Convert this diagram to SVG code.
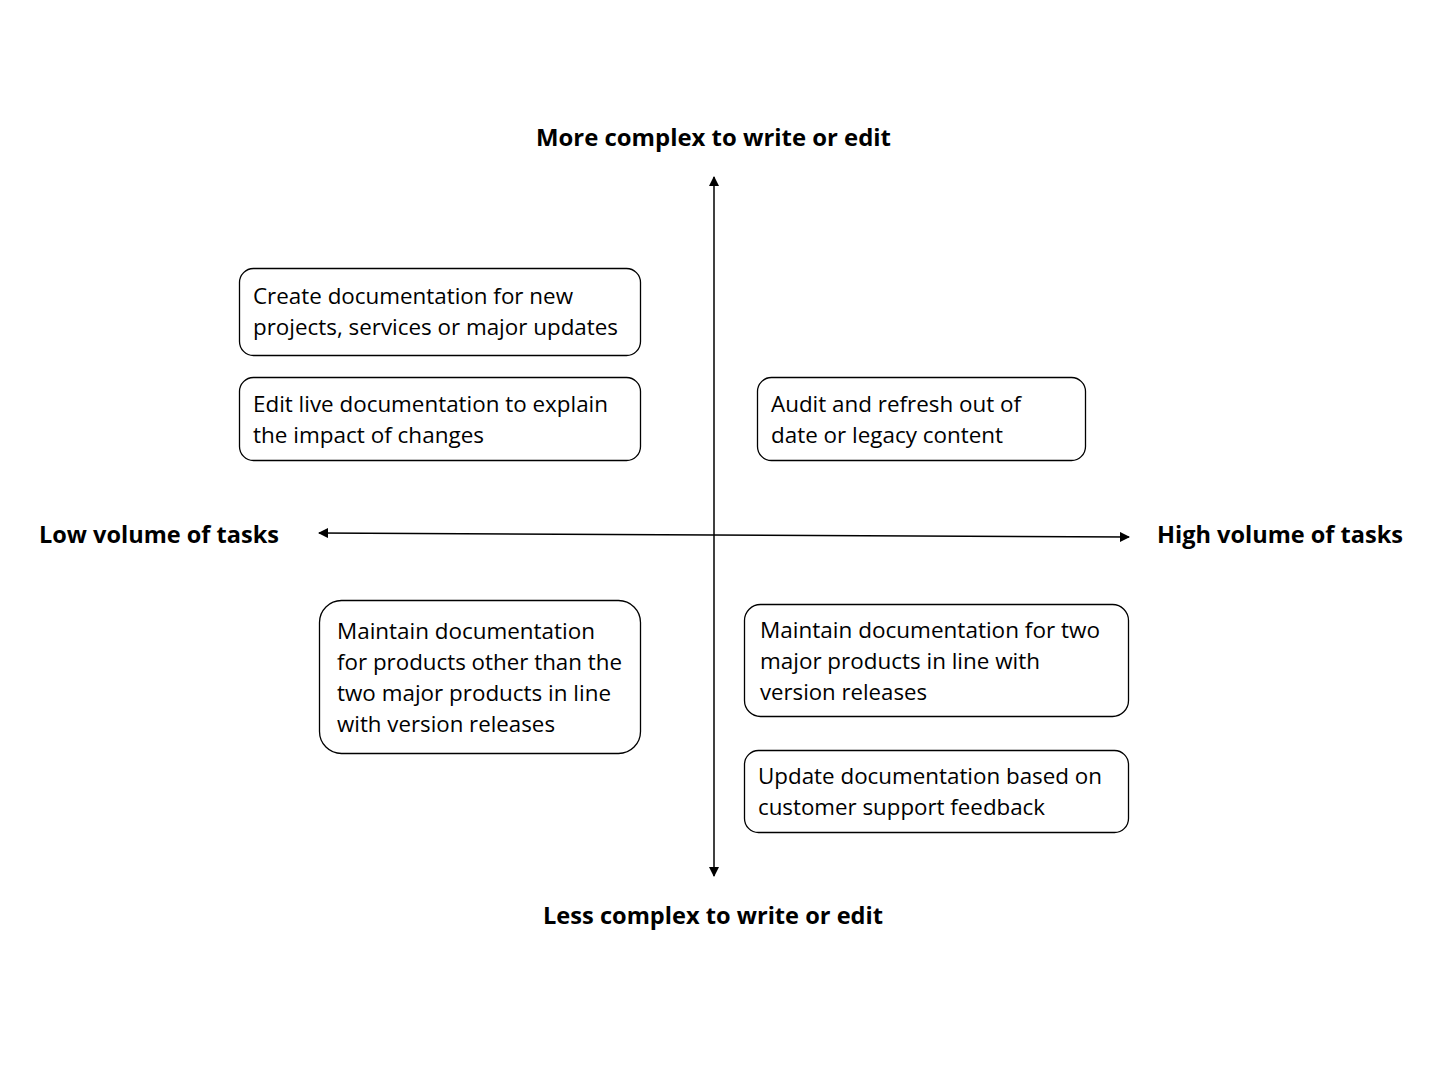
<svg xmlns="http://www.w3.org/2000/svg" width="1440" height="1080" viewBox="0 0 1440 1080">
<style>
.box{fill:#fff;stroke:#000;stroke-width:1.3}
.t{font-family:"Open Sans","Liberation Sans",sans-serif;font-size:21px;fill:#000}
.ax{font-family:"Open Sans","Liberation Sans",sans-serif;font-size:23px;font-weight:bold;fill:#000}
.ln{stroke:#000;stroke-width:1.5;fill:none}
</style>
<defs>
<marker id="ah" viewBox="0 0 10 10" refX="9" refY="5" markerWidth="10" markerHeight="10" markerUnits="userSpaceOnUse" orient="auto-start-reverse">
<path d="M0,0 L10,5 L0,10 z" fill="#000"/>
</marker>
</defs>
<rect width="1440" height="1080" fill="#fff"/>
<g id="connectors">
<line class="ln" x1="714" y1="177" x2="714" y2="876" marker-start="url(#ah)" marker-end="url(#ah)"/>
<line class="ln" x1="319" y1="533" x2="1129" y2="537" marker-start="url(#ah)" marker-end="url(#ah)"/>
</g>
<g id="axis-top"><text class="ax" x="536" y="146" textLength="355" lengthAdjust="spacingAndGlyphs">More complex to write or edit</text></g>
<g id="axis-bottom"><text class="ax" x="543" y="924" textLength="340" lengthAdjust="spacingAndGlyphs">Less complex to write or edit</text></g>
<g id="axis-left"><text class="ax" x="39" y="543" textLength="240" lengthAdjust="spacingAndGlyphs">Low volume of tasks</text></g>
<g id="axis-right"><text class="ax" x="1157" y="543" textLength="246" lengthAdjust="spacingAndGlyphs">High volume of tasks</text></g>
<g id="node-create">
<rect class="box" x="239.5" y="268.5" width="401" height="87" rx="14"/>
<text class="t" x="253" y="304" textLength="320" lengthAdjust="spacingAndGlyphs">Create documentation for new</text>
<text class="t" x="253" y="335" textLength="365" lengthAdjust="spacingAndGlyphs">projects, services or major updates</text>
</g>
<g id="node-edit">
<rect class="box" x="239.5" y="377.5" width="401" height="83" rx="14"/>
<text class="t" x="253" y="412" textLength="355" lengthAdjust="spacingAndGlyphs">Edit live documentation to explain</text>
<text class="t" x="253" y="443" textLength="231" lengthAdjust="spacingAndGlyphs">the impact of changes</text>
</g>
<g id="node-audit">
<rect class="box" x="757.5" y="377.5" width="328" height="83" rx="14"/>
<text class="t" x="771" y="412" textLength="250" lengthAdjust="spacingAndGlyphs">Audit and refresh out of</text>
<text class="t" x="771" y="443" textLength="232" lengthAdjust="spacingAndGlyphs">date or legacy content</text>
</g>
<g id="node-maintain-other">
<rect class="box" x="319.5" y="600.5" width="321" height="153" rx="22"/>
<text class="t" x="337" y="639" textLength="258" lengthAdjust="spacingAndGlyphs">Maintain documentation</text>
<text class="t" x="337" y="670" textLength="285" lengthAdjust="spacingAndGlyphs">for products other than the</text>
<text class="t" x="337" y="701" textLength="274" lengthAdjust="spacingAndGlyphs">two major products in line</text>
<text class="t" x="337" y="732" textLength="218" lengthAdjust="spacingAndGlyphs">with version releases</text>
</g>
<g id="node-maintain-two">
<rect class="box" x="744.5" y="604.5" width="384" height="112" rx="16"/>
<text class="t" x="760" y="638" textLength="340" lengthAdjust="spacingAndGlyphs">Maintain documentation for two</text>
<text class="t" x="760" y="669" textLength="280" lengthAdjust="spacingAndGlyphs">major products in line with</text>
<text class="t" x="760" y="700" textLength="167" lengthAdjust="spacingAndGlyphs">version releases</text>
</g>
<g id="node-update">
<rect class="box" x="744.5" y="750.5" width="384" height="82" rx="14"/>
<text class="t" x="758" y="784" textLength="344" lengthAdjust="spacingAndGlyphs">Update documentation based on</text>
<text class="t" x="758" y="815" textLength="287" lengthAdjust="spacingAndGlyphs">customer support feedback</text>
</g>
</svg>
